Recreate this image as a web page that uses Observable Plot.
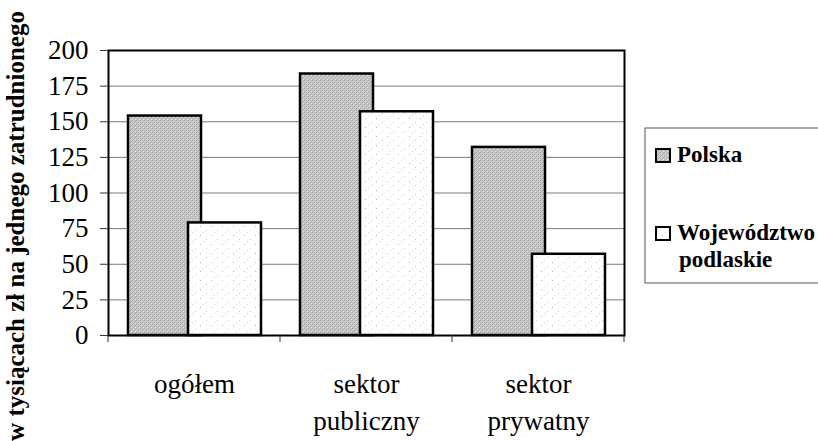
<!DOCTYPE html>
<html><head><meta charset="utf-8">
<script src="https://cdn.jsdelivr.net/npm/d3@7"></script>
<script src="https://cdn.jsdelivr.net/npm/@observablehq/plot@0.6"></script>
<style>
body{margin:0;background:#fff}
#chart{width:818px;height:441px;overflow:hidden}
</style>
</head><body><div id="chart"></div>
<script>
const categories = ["ogółem", "sektor\npubliczny", "sektor\nprywatny"];
const seriesNames = ["Polska", "Województwo\npodlaskie"];
const polska = [154, 183.5, 132];
const podlaskie = [79, 157, 57];
const yTicks = [0, 25, 50, 75, 100, 125, 150, 175, 200];
const yTitle = "w tysiącach zł na jednego zatrudnionego";
const FONT = "Liberation Serif";

const data = categories.flatMap((c, i) => [
  {category: c, series: seriesNames[0], value: polska[i]},
  {category: c, series: seriesNames[1], value: podlaskie[i]}
]);

const patterns = () => {
  const g = d3.create("svg:g");
  const defs = g.append("defs");
  const p1 = defs.append("pattern").attr("id", "pPolska").attr("patternUnits", "userSpaceOnUse")
    .attr("width", 4).attr("height", 4);
  p1.append("rect").attr("width", 4).attr("height", 4).attr("fill", "#cacaca");
  [[0,0,"#a8a8a8"],[2,0,"#b4b4b4"],[1,1,"#dadada"],[3,1,"#b0b0b0"],[0,2,"#b8b8b8"],[2,2,"#a4a4a4"],[1,3,"#b2b2b2"],[3,3,"#dedede"]]
    .forEach(([x,y,c]) => p1.append("rect").attr("x", x).attr("y", y).attr("width", 1).attr("height", 1).attr("fill", c));
  const p2 = defs.append("pattern").attr("id", "pPodl").attr("patternUnits", "userSpaceOnUse")
    .attr("width", 11).attr("height", 9);
  p2.append("rect").attr("width", 11).attr("height", 9).attr("fill", "#ffffff");
  [[2,1,"#b8b8b8"],[8,5,"#cccccc"],[5,7,"#d6d6d6"]]
    .forEach(([x,y,c]) => p2.append("rect").attr("x", x).attr("y", y).attr("width", 1).attr("height", 1).attr("fill", c));
  return g.node();
};

const edgeTicks = (index, scales, values, dims) => {
  const x = scales.x;
  const bw = x.bandwidth();
  const dom = x.domain();
  const edges = dom.map(d => x(d)).concat([x(dom[dom.length - 1]) + bw]);
  const y0 = dims.height - dims.marginBottom;
  const g = d3.create("svg:g");
  edges.forEach(e => g.append("line").attr("x1", e).attr("x2", e).attr("y1", y0).attr("y2", y0 + 7)
    .attr("stroke", "#333").attr("stroke-width", 1));
  return g.node();
};

const titleMark = (index, scales, values, dims) => {
  const g = d3.create("svg:g");
  g.append("text").attr("transform", "translate(24,226) rotate(-90)")
    .attr("text-anchor", "middle").attr("font-family", FONT)
    .attr("font-weight", "bold").attr("font-size", 25).attr("fill", "black").text(yTitle);
  return g.node();
};

const legendMark = (index, scales, values, dims) => {
  const g = d3.create("svg:g").attr("font-family", FONT)
    .attr("font-weight", "bold").attr("font-size", 23).attr("text-anchor", "start");
  const left = dims.width - dims.marginRight + 21;
  g.append("rect").attr("x", left).attr("y", 128).attr("width", 200).attr("height", 155)
    .attr("fill", "white").attr("stroke", "#555").attr("stroke-width", 1);
  const fills = ["url(#pPolska)", "url(#pPodl)"];
  const rows = [162, 240];
  seriesNames.forEach((s, i) => {
    g.append("rect").attr("x", left + 11).attr("y", rows[i] - 13).attr("width", 14).attr("height", 13)
      .attr("fill", fills[i]).attr("stroke", "black").attr("stroke-width", 2);
    const t = g.append("text").attr("x", left + 32).attr("y", rows[i]).attr("fill", "black")
      .attr("font-family", FONT);
    s.split("\n").forEach((line, j) => {
      t.append("tspan").attr("x", j === 0 ? left + 32 : left + 34).attr("dy", j === 0 ? 0 : 27).text(line);
    });
  });
  return g.node();
};

const chart = Plot.plot({
  width: 818,
  height: 441,
  marginLeft: 108,
  marginRight: 194,
  marginTop: 50,
  marginBottom: 106,
  style: {background: "white", color: "black", fontFamily: FONT},
  x: {type: "band", domain: categories, padding: 0, axis: null},
  y: {domain: [0, 200], axis: null},
  marks: [
    patterns,
    Plot.ruleY(yTicks, {stroke: "#7a7a7a", strokeWidth: 1}),
    Plot.barY(data.filter(d => d.series === seriesNames[0]), {x: "category", y: "value", fill: "url(#pPolska)", stroke: "black", strokeWidth: 2.5, insetLeft: 20, insetRight: 79}),
    Plot.barY(data.filter(d => d.series === seriesNames[1]), {x: "category", y: "value", fill: "url(#pPodl)", stroke: "black", strokeWidth: 2.5, insetLeft: 80, insetRight: 19}),
    Plot.frame({stroke: "black", strokeWidth: 2}),
    Plot.axisY({ticks: yTicks, tickSize: 8, tickPadding: 12, label: null, fontSize: 27, fontFamily: FONT, stroke: "#333"}),
    Plot.axisX({tickSize: 0, tickPadding: 31, label: null, fontSize: 27, fontFamily: FONT, lineHeight: 1.38}),
    edgeTicks,
    titleMark,
    legendMark
  ]
});
document.getElementById("chart").appendChild(chart);
</script>
</body></html>
